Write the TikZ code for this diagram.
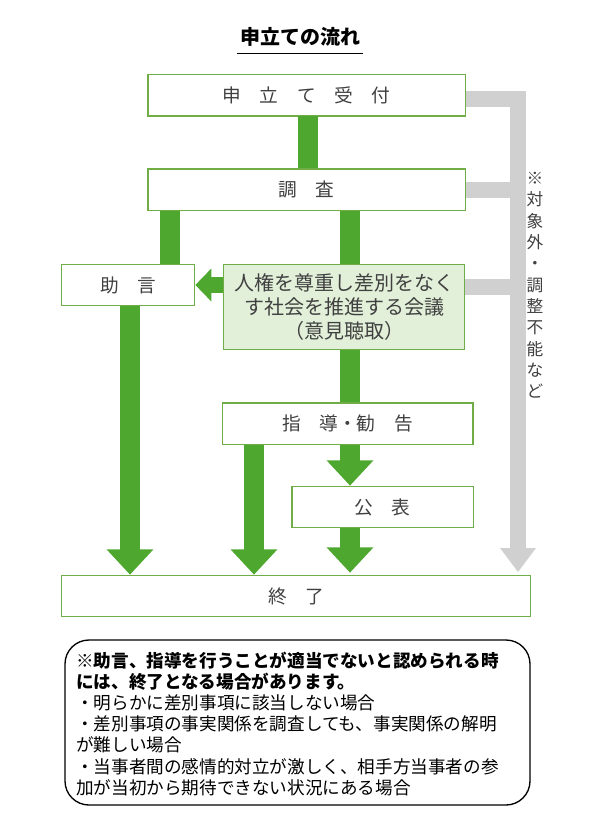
\documentclass[tikz,border=0pt]{standalone}
\usepackage{fontspec}
\setmainfont{Noto Sans CJK JP}
\usetikzlibrary{arrows.meta,calc}
\definecolor{gbar}{HTML}{4EA72E}
\definecolor{gedge}{HTML}{70AD47}
\definecolor{gfill}{HTML}{E2F0D9}
\definecolor{gray1}{HTML}{D0D0D0}
\begin{document}
\begin{tikzpicture}[x=0.75pt,y=-0.75pt,
  box/.style={draw=gedge,line width=1pt,fill=white,minimum height=31pt,inner sep=0,font=\fontsize{14}{16}\selectfont,text=black!75},
  gb/.style={draw=gbar,line width=15pt},
  ga/.style={gb,-{Triangle[width=34pt,length=19pt]}},
  gr/.style={draw=gray1,line width=12pt,line join=miter}]
\useasboundingbox (0,0) rectangle (600,838);
\node[font=\bfseries\fontsize{15}{17}\selectfont] (title) at (300,37) {申立ての流れ};
\draw[line width=1pt] ($(title.south west)+(2,2)$) -- ($(title.south east)+(-2,2)$);
% gray
\coordinate (gt) at (518,99);
\coordinate (gbot) at (518,572);
\draw[gr] (465,99) -- (gt) -- ($(gbot)+(0,-20)$);
\fill[gray1] (500,548) -- (536,548) -- (518,572) -- cycle;
\draw[gr] (465,190) -- (518,190);
\draw[gr] (465,287) -- (518,287);
% boxes
\node[box,minimum width=238pt] (b1) at (306.5,95.5) {申　立　て　受　付};
\node[box,minimum width=238pt] (b2) at (306.5,189.5) {調　査};
\node[box,minimum width=100pt] (jo) at (128,285) {助　言};
\node[box,fill=gfill,minimum width=181pt,minimum height=64pt,align=center,font=\fontsize{15}{18}\selectfont] (kai) at (344,307) {人権を尊重し差別をなく\\す社会を推進する会議\\（意見聴取）};
\node[box,minimum width=188pt] (shi) at (347.5,423.5) {指　導・勧　告};
\node[box,minimum width=136pt] (ko) at (382.5,507) {公　表};
\node[box,minimum width=352pt] (end) at (296,596) {終　了};
% green connectors
\draw[gb] (308,116) -- (b2.north -| 308,0);
\draw[gb] (b2.south -| 170,0) -- (jo.north -| 170,0);
\draw[gb] (b2.south -| 350,0) -- (kai.north -| 350,0);
\draw[gb,line width=12pt,-{Triangle[width=24pt,length=12pt]}] (kai.west |- 0,285) -- (jo.east);
\draw[gb] (kai.south -| 350,0) -- (shi.north -| 350,0);
\draw[ga] (jo.south -| 130,0) -- (end.north -| 130,0);
\draw[ga] (shi.south -| 254,0) -- (end.north -| 254,0);
\draw[ga] (shi.south -| 350,0) -- (ko.north -| 350,0);
\draw[ga] (ko.south -| 350,0) -- ($(end.north -| 350,0)+(0,-2)$);
% vertical label
\node[align=center,inner sep=0,font=\fontsize{12.5}{16}\selectfont,text=black!75,anchor=north] (vl) at (535,172) {※\\対\\象\\外\\・\\調\\整\\不\\能\\な\\ど};
% note
\draw[line width=1pt,rounded corners=18pt] (65,640) rectangle (530,805);
\node[anchor=north west,align=left,inner sep=0,font=\fontsize{13.2}{15.8}\selectfont] (note) at (76,652) {\textbf{※助言、指導を行うことが適当でないと認められる時}\\\textbf{には、終了となる場合があります。}\\・明らかに差別事項に該当しない場合\\・差別事項の事実関係を調査しても、事実関係の解明\\が難しい場合\\・当事者間の感情的対立が激しく、相手方当事者の参\\加が当初から期待できない状況にある場合};
\end{tikzpicture}
\end{document}
